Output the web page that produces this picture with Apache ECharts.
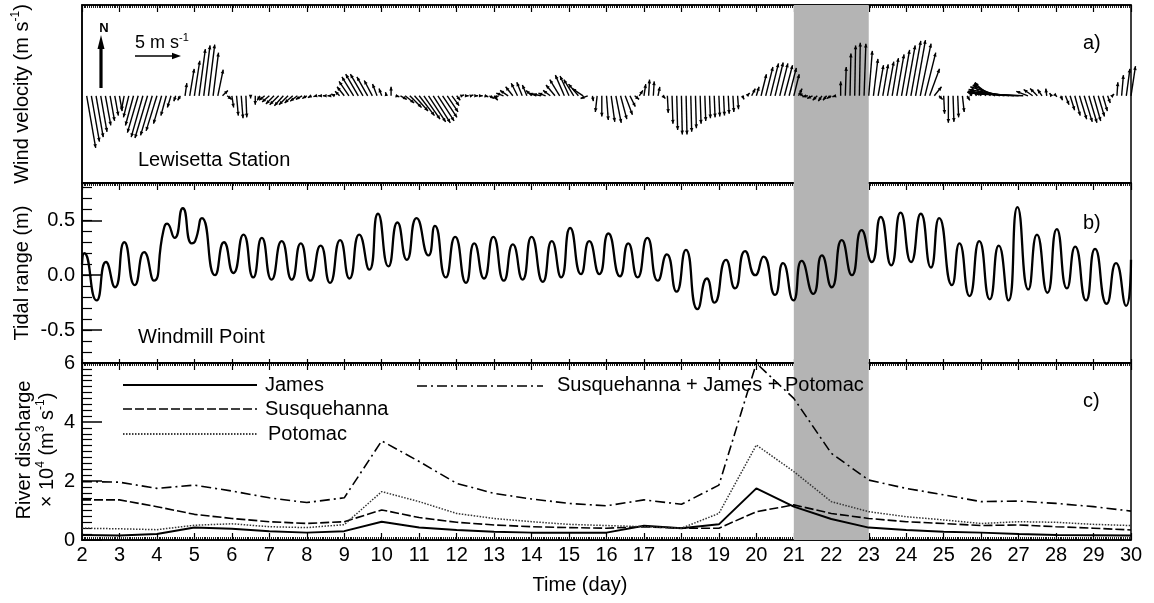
<!DOCTYPE html>
<html>
<head>
<meta charset="utf-8">
<script src="https://cdn.jsdelivr.net/npm/echarts@6/dist/echarts.min.js"></script>
<style>
  html, body { margin: 0; padding: 0; background: #fff; }
  #chart { width: 1154px; height: 603px; }
</style>
</head>
<body>
<div id="chart"></div>
<script>
// ---- wind sticks at Lewisetta (3-hourly, m/s) ----
const windStart = 2.125;   // day of first observation
const windStep = 0.125;    // 3 hours
const windU = [
  1.0, 0.9, 0.8, 0.7, 0.6, 0.5, 0.4, 0.3, -0.3, -0.6,
  -0.9, -1.2, -1.3, -1.4, -1.3, -1.2, -0.9, -0.6, -0.4, -0.2,
  -0.3, 0.2, 0.5, 0.6, 0.7, 0.7, 0.7, 0.6, 0.6, 0.6,
  0.5, 0.2, 0.2, 0.2, 0.1, 0.0, 0.0, -0.3, -0.6, -0.8,
  -0.9, -1.0, -1.0, -1.0, -0.9, -0.8, -0.7, -0.5, -0.4, -0.3,
  -0.3, -0.3, -0.3, -0.4, -0.5, -0.8, -1.1, -1.3, -1.4, -1.4,
  -1.2, -0.9, -0.5, -0.3, -0.1, 0.0, 0.4, 0.7, 1.0, 1.3,
  1.5, 1.7, 1.8, 1.9, 1.9, 1.8, 1.6, 1.2, 0.8, 0.4,
  0.3, 0.3, 0.3, 0.3, 0.3, 0.4, 0.5, 0.4, -0.6, -0.8,
  -0.9, -0.8, -0.7, -0.6, -0.5, -0.6, -0.8, -0.9, -0.8, -0.8,
  -1.0, -1.1, -1.0, -1.0, -1.1, -1.1, -1.2, -0.8, 0.1, -0.2,
  0.0, 0.2, 0.4, 0.6, 0.7, 0.8, 0.6, 0.5, 0.4, 0.2,
  0.1, 0.1, 0.2, 0.3, 0.1, 0.1, 0.1, 0.1, 0.1, 0.1,
  0.1, 0.1, 0.1, 0.1, 0.1, 0.1, 0.1, 0.1, 0.1, 0.1,
  0.2, 0.3, 0.4, 0.3, 0.6, 0.8, 0.9, 0.9, 0.9, 0.9,
  0.8, 0.6, 0.4, -0.5, -0.6, -0.6, -0.5, -0.4, -0.4, -0.5,
  -0.4, 0.0, 0.1, 0.1, 0.1, 0.1, 0.2, 0.4, 0.5, 0.6,
  0.6, 0.7, 0.7, 0.8, 0.9, 1.0, 1.1, 1.1, 1.2, 1.2,
  1.1, 0.8, 0.4, 0.1, 0.0, 0.1, 0.1, 0.2, 0.3, -0.3,
  -0.5, -0.8, -1.2, -1.8, -2.5, -3.3, -4.0, -4.6, -5.2, -5.6,
  -5.3, -1.3, -1.0, -0.8, -0.5, -0.1, -0.2, 0.1, 0.2, 0.4,
  0.5, 0.6, 0.8, 0.9, 0.9, 0.8, 0.7, 0.5, 0.3, 0.2,
  0.1, 0.2, 0.4, 0.5
];
const windV = [
  -5.8, -5.1, -4.6, -4.0, -3.3, -2.8, -2.2, -1.7, -1.6, -2.4,
  -3.3, -4.1, -4.6, -4.7, -4.4, -3.9, -3.1, -2.2, -1.3, -0.6,
  -0.5, 1.4, 3.0, 3.9, 5.2, 5.6, 5.7, 4.8, 2.9, 0.6,
  -0.4, -1.3, -2.2, -2.5, -2.4, -0.3, -1.0, -0.5, -0.5, -0.7,
  -0.9, -1.0, -1.1, -1.0, -0.8, -0.6, -0.4, -0.3, -0.2, -0.1,
  0.0, 0.0, 0.0, 0.2, 0.5, 1.0, 1.6, 2.1, 2.4, 2.4,
  2.1, 1.7, 1.3, 0.8, 0.4, 1.0, -0.1, -0.4, -0.8, -1.3,
  -1.7, -2.2, -2.6, -2.9, -3.0, -2.8, -2.4, -1.8, -1.1, -0.5,
  0.1, 0.0, 0.1, 0.0, 0.0, -0.1, -0.3, -0.5, -0.2, 0.3,
  0.6, 1.0, 1.4, 1.5, 1.2, 0.6, 0.3, 0.2, 0.3, 0.6,
  1.2, 1.8, 2.3, 2.2, 1.8, 1.3, 0.8, -0.3, -0.6, -1.8,
  -2.3, -2.7, -2.9, -3.0, -2.6, -2.1, -1.2, -0.4, 0.6, 1.3,
  1.8, 1.6, 1.0, -0.3, -1.9, -3.1, -3.8, -4.3, -4.3, -4.0,
  -3.6, -3.1, -2.8, -2.5, -2.4, -2.3, -2.2, -2.0, -1.8, -1.5,
  -0.4, 0.3, 0.8, 1.0, 2.4, 3.2, 3.6, 3.7, 3.6, 3.4,
  3.1, 2.4, 0.8, 0.3, -0.1, -0.3, -0.5, -0.6, -0.5, -0.3,
  -0.1, 1.6, 3.2, 4.7, 5.6, 5.9, 5.8, 5.0, 4.1, 3.4,
  3.5, 3.8, 4.2, 4.6, 5.1, 5.6, 6.1, 6.2, 5.8, 4.8,
  3.0, 1.0, -0.4, -2.0, -3.0, -2.9, -2.4, -1.8, -0.5, 0.4,
  0.8, 1.3, 1.5, 1.4, 1.2, 1.0, 0.7, 0.5, 0.4, 0.3,
  0.2, 0.5, 0.7, 0.8, 0.7, 0.8, 0.3, -0.1, -0.5, -1.0,
  -1.6, -2.2, -2.6, -2.9, -3.0, -2.8, -2.3, -1.7, -0.8, 0.2,
  1.5, 2.3, 3.0, 3.3
];

// ---- water level at Windmill Point: successive highs and lows (day, m) ----
const tideTime = [
  2.00, 2.06, 2.39, 2.64, 2.88, 3.13, 3.41, 3.66, 3.92, 4.17, 4.27, 4.47, 4.69, 4.93, 5.02, 5.20,
  5.55, 5.79, 6.04, 6.31, 6.57, 6.80, 7.06, 7.33, 7.60, 7.84, 8.10, 8.37, 8.62, 8.89, 9.14, 9.40,
  9.67, 9.90, 10.18, 10.42, 10.67, 10.93, 11.25, 11.42, 11.71, 11.96, 12.25, 12.47, 12.73, 12.98,
  13.26, 13.50, 13.76, 14.00, 14.30, 14.54, 14.79, 15.03, 15.32, 15.54, 15.81, 16.05, 16.36, 16.58,
  16.83, 17.09, 17.37, 17.61, 17.87, 18.12, 18.43, 18.68, 18.88, 19.19, 19.43, 19.70, 19.97, 20.19,
  20.50, 20.71, 20.99, 21.21, 21.52, 21.75, 22.01, 22.28, 22.55, 22.81, 23.08, 23.32, 23.60, 23.85,
  24.13, 24.39, 24.66, 24.88, 25.22, 25.42, 25.69, 25.95, 26.23, 26.47, 26.73, 26.97, 27.26, 27.49,
  27.77, 28.02, 28.29, 28.51, 28.80, 29.04, 29.35, 29.60, 29.87, 30.00
];
const tideLevel = [
  0.10, 0.20, -0.23, 0.12, -0.11, 0.30, -0.09, 0.21, -0.05, 0.40, 0.47, 0.34, 0.61, 0.29, 0.31, 0.52,
  0.00, 0.30, 0.02, 0.37, -0.02, 0.34, -0.04, 0.31, -0.04, 0.29, -0.05, 0.27, -0.07, 0.32, -0.03, 0.37,
  0.05, 0.56, 0.08, 0.48, 0.14, 0.52, 0.18, 0.45, -0.02, 0.35, -0.07, 0.29, -0.03, 0.35,
  -0.05, 0.28, -0.04, 0.35, -0.06, 0.31, -0.02, 0.43, 0.01, 0.31, 0.01, 0.38, -0.01, 0.29,
  -0.02, 0.34, -0.05, 0.19, -0.15, 0.23, -0.31, -0.03, -0.25, 0.14, -0.12, 0.22, 0.00, 0.17,
  -0.18, 0.11, -0.23, 0.13, -0.17, 0.18, -0.11, 0.32, 0.00, 0.41, 0.12, 0.53, 0.09, 0.57,
  0.12, 0.56, 0.07, 0.52, -0.09, 0.29, -0.19, 0.31, -0.22, 0.27, -0.23, 0.62, -0.13, 0.37,
  -0.16, 0.42, -0.12, 0.26, -0.23, 0.24, -0.26, 0.11, -0.28, 0.14
];
const tideTickValues = [-0.5, 0, 0.5];

// ---- daily river discharge (x 10^4 m^3/s) ----
const days = [2, 3, 4, 5, 6, 7, 8, 9, 10, 11, 12, 13, 14, 15, 16, 17, 18, 19, 20, 21, 22, 23, 24, 25, 26, 27, 28, 29, 30];
const james = [0.17, 0.15, 0.20, 0.42, 0.38, 0.30, 0.25, 0.30, 0.62, 0.42, 0.34, 0.28, 0.25, 0.25, 0.25, 0.48, 0.40, 0.53, 1.75, 1.13, 0.71, 0.42, 0.34, 0.28, 0.25, 0.20, 0.17, 0.16, 0.15];
const susquehanna = [1.36, 1.36, 1.13, 0.87, 0.73, 0.62, 0.56, 0.62, 1.02, 0.76, 0.60, 0.51, 0.45, 0.42, 0.40, 0.45, 0.40, 0.40, 0.96, 1.19, 0.90, 0.73, 0.62, 0.56, 0.49, 0.51, 0.45, 0.40, 0.34];
const potomac = [0.40, 0.38, 0.35, 0.50, 0.55, 0.45, 0.42, 0.52, 1.64, 1.30, 0.90, 0.73, 0.62, 0.53, 0.49, 0.45, 0.40, 0.90, 3.22, 2.32, 1.30, 0.96, 0.79, 0.68, 0.56, 0.62, 0.60, 0.53, 0.49];
const combined = [1.98, 1.96, 1.75, 1.86, 1.66, 1.43, 1.27, 1.43, 3.36, 2.66, 1.92, 1.58, 1.39, 1.24, 1.16, 1.36, 1.21, 1.86, 5.99, 4.80, 2.94, 2.03, 1.75, 1.53, 1.30, 1.32, 1.24, 1.13, 0.98];

// event window shaded across all panels
const shadeStart = 21, shadeEnd = 23;

const FONT = 'Arial, "Liberation Sans", Helvetica, sans-serif';
const INK = '#000';
const SHADE = '#b4b4b4';

const chart = echarts.init(document.getElementById('chart'), null, { renderer: 'canvas' });

const gridBase = { left: 82, right: 23, show: true, borderColor: INK, borderWidth: 1.5, backgroundColor: 'transparent' };

function bottomAxis(gi, labelled) {
  return {
    type: 'value', gridIndex: gi, position: 'bottom', min: 2, max: 30, interval: 1,
    axisLine: { show: true, onZero: false, lineStyle: { color: INK, width: 1.5 } },
    axisTick: { show: gi !== 0, inside: true, length: gi === 2 ? 7 : 4, lineStyle: { color: INK, width: 1.2 } },
    minorTick: { show: gi === 2, splitNumber: 20, length: 3, lineStyle: { color: INK, width: 0.9 } },
    axisLabel: { show: labelled, color: INK, fontFamily: FONT, fontSize: 20, margin: 5 },
    splitLine: { show: false }
  };
}
function topAxis(gi) {
  return {
    type: 'value', gridIndex: gi, position: 'top', min: 2, max: 30, interval: 1,
    axisLine: { show: true, onZero: false, lineStyle: { color: INK, width: 1.5 } },
    axisTick: { show: true, inside: true, length: 7, lineStyle: { color: INK, width: 1.2 } },
    minorTick: { show: true, splitNumber: 20, length: 3, lineStyle: { color: INK, width: 0.9 } },
    axisLabel: { show: false },
    splitLine: { show: false }
  };
}

function shadeSeries(xi, yi) {
  return {
    type: 'line', xAxisIndex: xi, yAxisIndex: yi, data: [], silent: true, z: 1,
    markArea: {
      silent: true,
      itemStyle: { color: SHADE, opacity: 1 },
      data: [[{ xAxis: shadeStart }, { xAxis: shadeEnd }]]
    }
  };
}

const windData = windU.map((u, j) => [windStart + j * windStep, u, windV[j]]);

function renderStick(params, api) {
  const t = api.value(0), u = api.value(1), v = api.value(2);
  const base = api.coord([t, 0]);
  const k = api.size([0, 1])[1];          // pixels per m/s (same scale both ways)
  const tx = base[0] + u * k, ty = base[1] - v * k;
  const dx = tx - base[0], dy = ty - base[1];
  const len = Math.hypot(dx, dy);
  const children = [];
  if (len > 0.3) {
    children.push({
      type: 'line',
      shape: { x1: base[0], y1: base[1], x2: tx, y2: ty },
      style: { stroke: INK, lineWidth: 1.4 }
    });
    const ux = dx / len, uy = dy / len;
    const hl = 3.8, hw = 1.8;
    const bx = tx - ux * hl, by = ty - uy * hl;
    children.push({
      type: 'polygon',
      shape: { points: [[tx, ty], [bx - uy * hw, by + ux * hw], [bx + uy * hw, by - ux * hw]] },
      style: { fill: INK }
    });
  } else {
    children.push({ type: 'circle', shape: { cx: base[0], cy: base[1], r: 1.4 }, style: { fill: INK } });
  }
  return { type: 'group', children };
}

const rich = {
  n: { fontSize: 20, fontFamily: FONT, fill: INK, lineHeight: 24, verticalAlign: 'middle' },
  s: { fontSize: 12, fontFamily: FONT, fill: INK, lineHeight: 24, verticalAlign: 'top' }
};
const richSmall = {
  n: { fontSize: 18, fontFamily: FONT, fill: INK, lineHeight: 22, verticalAlign: 'middle' },
  s: { fontSize: 11, fontFamily: FONT, fill: INK, lineHeight: 22, verticalAlign: 'top' }
};

function vText(x, y, text, r) {
  return { type: 'text', x, y, rotation: Math.PI / 2, z: 50,
    style: { text, rich: r || rich, align: 'center', verticalAlign: 'middle' } };
}
function hText(x, y, text, size, align) {
  return { type: 'text', x, y, z: 50,
    style: { text, fontFamily: FONT, fontSize: size, fill: INK, align: align || 'left', verticalAlign: 'middle' } };
}
function legendLine(x1, x2, y, dash, w) {
  return { type: 'line', z: 50, shape: { x1, y1: y, x2, y2: y },
    style: { stroke: INK, lineWidth: w || 1.5, lineDash: dash || null } };
}

const DASH_S = [9, 3];
const DOT_P = [1.5, 1.5];
const DASHDOT = [10, 4, 2, 4];

const option = {
  animation: false,
  backgroundColor: '#fff',
  grid: [
    Object.assign({ top: 5, height: 178 }, gridBase),
    Object.assign({ top: 183, height: 180 }, gridBase),
    Object.assign({ top: 363, height: 177 }, gridBase)
  ],
  xAxis: [
    bottomAxis(0, false), topAxis(0),
    bottomAxis(1, false), topAxis(1),
    bottomAxis(2, true), topAxis(2)
  ],
  yAxis: [
    { // wind
      type: 'value', gridIndex: 0, position: 'left', min: -9.7, max: 10.1,
      axisLine: { show: true, onZero: false, lineStyle: { color: INK, width: 1.5 } },
      axisTick: { show: false }, axisLabel: { show: false }, splitLine: { show: false }
    },
    { // water level: labelled major ticks
      type: 'value', gridIndex: 1, position: 'left', min: -0.8, max: 0.84, interval: 0.1,
      axisLine: { show: true, onZero: false, lineStyle: { color: INK, width: 1.5 } },
      axisTick: { show: true, inside: true, length: 20, customValues: tideTickValues, lineStyle: { color: INK, width: 1.5 } },
      axisLabel: { show: true, customValues: tideTickValues, formatter: v => v.toFixed(1), color: INK, fontFamily: FONT, fontSize: 20, margin: 7 },
      splitLine: { show: false }
    },
    { // water level: minor ticks every 0.1 m, on the same left edge
      type: 'value', gridIndex: 1, position: 'left', offset: 0, min: -0.8, max: 0.84, interval: 0.1,
      axisLine: { show: false, onZero: false },
      axisTick: { show: true, inside: true, length: 10, lineStyle: { color: INK, width: 1.2 } },
      axisLabel: { show: false }, splitLine: { show: false }
    },
    { // discharge
      type: 'value', gridIndex: 2, position: 'left', min: 0, max: 6, interval: 2,
      axisLine: { show: true, onZero: false, lineStyle: { color: INK, width: 1.5 } },
      axisTick: { show: true, inside: true, length: 20, lineStyle: { color: INK, width: 1.5 } },
      minorTick: { show: true, splitNumber: 10, length: 10, lineStyle: { color: INK, width: 1.2 } },
      axisLabel: { show: true, color: INK, fontFamily: FONT, fontSize: 20, margin: 7 },
      splitLine: { show: false }
    }
  ],
  series: [
    shadeSeries(0, 0),
    {
      type: 'custom', name: 'Wind', xAxisIndex: 0, yAxisIndex: 0, z: 3, clip: false,
      renderItem: renderStick, data: windData, encode: { x: 0, y: 2 }
    },
    shadeSeries(2, 1),
    {
      type: 'line', name: 'Tidal range', xAxisIndex: 2, yAxisIndex: 1, z: 3,
      data: tideTime.map((t, i) => [t, tideLevel[i]]),
      smooth: 0.6, symbol: 'none',
      lineStyle: { color: INK, width: 2.3 }
    },
    shadeSeries(4, 3),
    {
      type: 'line', name: 'James', xAxisIndex: 4, yAxisIndex: 3, z: 3, symbol: 'none',
      data: days.map((d, i) => [d, james[i]]),
      lineStyle: { color: INK, width: 2 }
    },
    {
      type: 'line', name: 'Susquehanna', xAxisIndex: 4, yAxisIndex: 3, z: 3, symbol: 'none',
      data: days.map((d, i) => [d, susquehanna[i]]),
      lineStyle: { color: INK, width: 1.6, type: DASH_S }
    },
    {
      type: 'line', name: 'Potomac', xAxisIndex: 4, yAxisIndex: 3, z: 3, symbol: 'none',
      data: days.map((d, i) => [d, potomac[i]]),
      lineStyle: { color: '#333', width: 1.5, type: DOT_P }
    },
    {
      type: 'line', name: 'Susquehanna + James + Potomac', xAxisIndex: 4, yAxisIndex: 3, z: 3, symbol: 'none',
      data: days.map((d, i) => [d, combined[i]]),
      lineStyle: { color: INK, width: 1.6, type: DASHDOT }
    }
  ],
  graphic: [
    // axis titles
    vText(22, 94, '{n|Wind velocity (m s}{s|-1}{n|)}'),
    vText(22, 273, '{n|Tidal range (m)}'),
    vText(24, 450, '{n|River discharge}'),
    vText(47, 450, '{n|\u00d7 10}{s|4}{n| (m}{s|3}{n| s}{s|-1}{n|)}'),
    hText(580, 585, 'Time (day)', 20, 'center'),
    // panel tags and station names
    hText(1083, 43, 'a)', 20),
    hText(1083, 223, 'b)', 20),
    hText(1083, 401, 'c)', 20),
    hText(138, 160, 'Lewisetta Station', 20),
    hText(138, 337, 'Windmill Point', 20),
    // north arrow
    { type: 'line', z: 50, shape: { x1: 101, y1: 88, x2: 101, y2: 46 }, style: { stroke: INK, lineWidth: 3.2 } },
    { type: 'polygon', z: 50, shape: { points: [[101, 35], [97.5, 49], [104.5, 49]] }, style: { fill: INK } },
    { type: 'text', x: 104, y: 28, z: 50, style: { text: 'N', fontFamily: FONT, fontSize: 13, fontWeight: 'bold', fill: INK, align: 'center', verticalAlign: 'middle' } },
    // 5 m/s scale arrow
    { type: 'line', z: 50, shape: { x1: 135, y1: 56, x2: 176, y2: 56 }, style: { stroke: INK, lineWidth: 1.6 } },
    { type: 'polygon', z: 50, shape: { points: [[181, 56], [172, 52.8], [172, 59.2]] }, style: { fill: INK } },
    { type: 'text', x: 135, y: 43, z: 50, style: { text: '{n|5 m s}{s|-1}', rich: richSmall, align: 'left', verticalAlign: 'middle' } },
    // discharge legend
    legendLine(123, 257, 385, null, 2),
    hText(265, 385, 'James', 20),
    legendLine(123, 257, 409, DASH_S, 1.6),
    hText(265, 409, 'Susquehanna', 20),
    legendLine(123, 257, 434, DOT_P, 1.5),
    hText(268, 434, 'Potomac', 20),
    legendLine(417, 543, 386, DASHDOT, 1.6),
    hText(557, 385, 'Susquehanna + James + Potomac', 20)
  ]
};

chart.setOption(option);
</script>
</body>
</html>
